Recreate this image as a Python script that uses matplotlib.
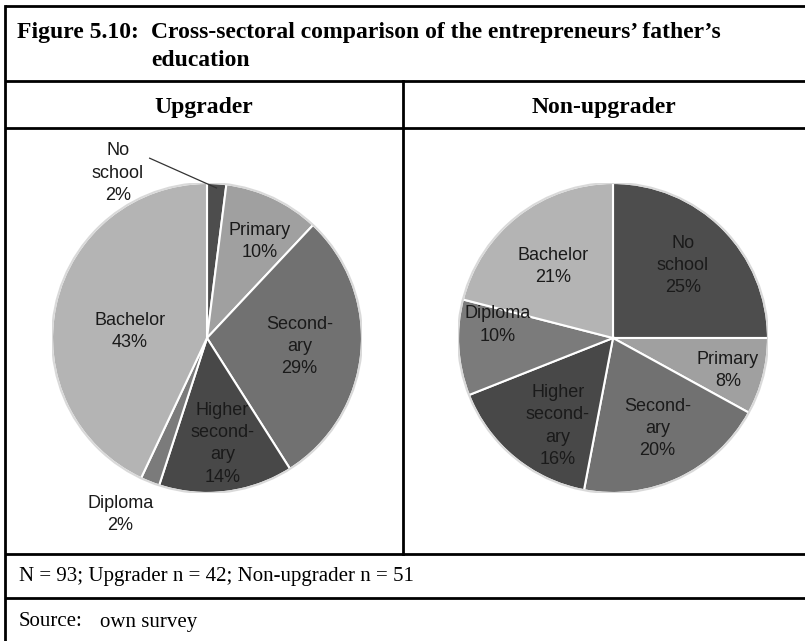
import numpy as np
import matplotlib
matplotlib.use("Agg")
import matplotlib.pyplot as plt

# data
categories = ["No\nschool", "Primary", "Second-\nary", "Higher\nsecond-\nary", "Diploma", "Bachelor"]
upgrader = [2, 10, 29, 14, 2, 43]
non_upgrader = [25, 8, 20, 16, 10, 21]
colors = ["#4d4d4d", "#a0a0a0", "#717171", "#484848", "#7b7b7b", "#b4b4b4"]

title_num = "Figure 5.10:"
title_line1 = "Cross-sectoral comparison of the entrepreneurs\u2019 father\u2019s"
title_line2 = "education"
note_txt = "N = 93; Upgrader n = 42; Non-upgrader n = 51"
source_txt = "Source:"
source_val = "own survey"

W, H = 805, 641
fig = plt.figure(figsize=(W / 100, H / 100), dpi=100)

# background axes in pixel coords for the table frame
bg = fig.add_axes([0, 0, 1, 1])
bg.set_xlim(0, W)
bg.set_ylim(H, 0)
bg.axis("off")

lw = 2.0
for y in [5.5, 81, 128, 554, 598]:
    bg.plot([5, W], [y, y], color="black", lw=lw, solid_capstyle="butt")
bg.plot([5, 5], [5.5, H], color="black", lw=lw)
bg.plot([403, 403], [81, 554], color="black", lw=lw)

serif = "Liberation Serif"
bg.text(17, 38, title_num, family=serif, weight="bold", fontsize=17, va="baseline", ha="left")
bg.text(151, 38, title_line1, family=serif, weight="bold", fontsize=17, va="baseline", ha="left")
bg.text(151, 66, title_line2, family=serif, weight="bold", fontsize=17, va="baseline", ha="left")
bg.text(204, 107, "Upgrader", family=serif, weight="bold", fontsize=17, va="center", ha="center")
bg.text(604, 107, "Non-upgrader", family=serif, weight="bold", fontsize=17, va="center", ha="center")
bg.text(19, 577, note_txt, family=serif, fontsize=15, va="center", ha="left")
bg.text(19, 622, source_txt, family=serif, fontsize=15, va="center", ha="left")
bg.text(100, 622, source_val, family=serif, fontsize=15, va="center", ha="left")

R = 155


def draw_pie(cx, cy, values, label_pos):
    ax = fig.add_axes([(cx - R) / W, 1 - (cy + R) / H, 2 * R / W, 2 * R / H])
    wedges, _ = ax.pie(values, colors=colors, startangle=90, counterclock=False,
                       wedgeprops=dict(edgecolor="white", linewidth=1.5))
    ax.add_patch(plt.Circle((0, 0), 1.0, fill=False, edgecolor="#d9d9d9", lw=1.5))
    ax.set_xlim(-1, 1)
    ax.set_ylim(-1, 1)
    ax.set_aspect("equal")
    ax.axis("off")
    for w, cat, v, (dist, dang) in zip(wedges, categories, values, label_pos):
        mid = np.deg2rad((w.theta1 + w.theta2) / 2 + dang)
        x, y = dist * np.cos(mid), dist * np.sin(mid)
        ax.text(x, y, "%s\n%d%%" % (cat, v), ha="center", va="center",
                family="Liberation Sans", fontsize=13, color="#1a1a1a",
                linespacing=1.4)
    return ax, wedges


# (radial distance, angle shift) per label
up_pos = [(1.21, 32), (0.71, -3.5), (0.60, 0), (0.69, 1), (1.27, -4.5), (0.50, 7.5)]
non_pos = [(0.65, 1), (0.77, -1.5), (0.65, 1), (0.67, 7.5), (0.75, -10), (0.60, 2)]

ax1, w1 = draw_pie(207, 338, upgrader, up_pos)
draw_pie(613, 338, non_upgrader, non_pos)

# leader line for the small "No school" slice
t = np.deg2rad((w1[0].theta1 + w1[0].theta2) / 2)
ax1.plot([-0.37, 0.97 * np.cos(t)], [1.16, 0.97 * np.sin(t)], color="#333333", lw=0.9,
         clip_on=False)

fig.savefig("out.png", dpi=100)
